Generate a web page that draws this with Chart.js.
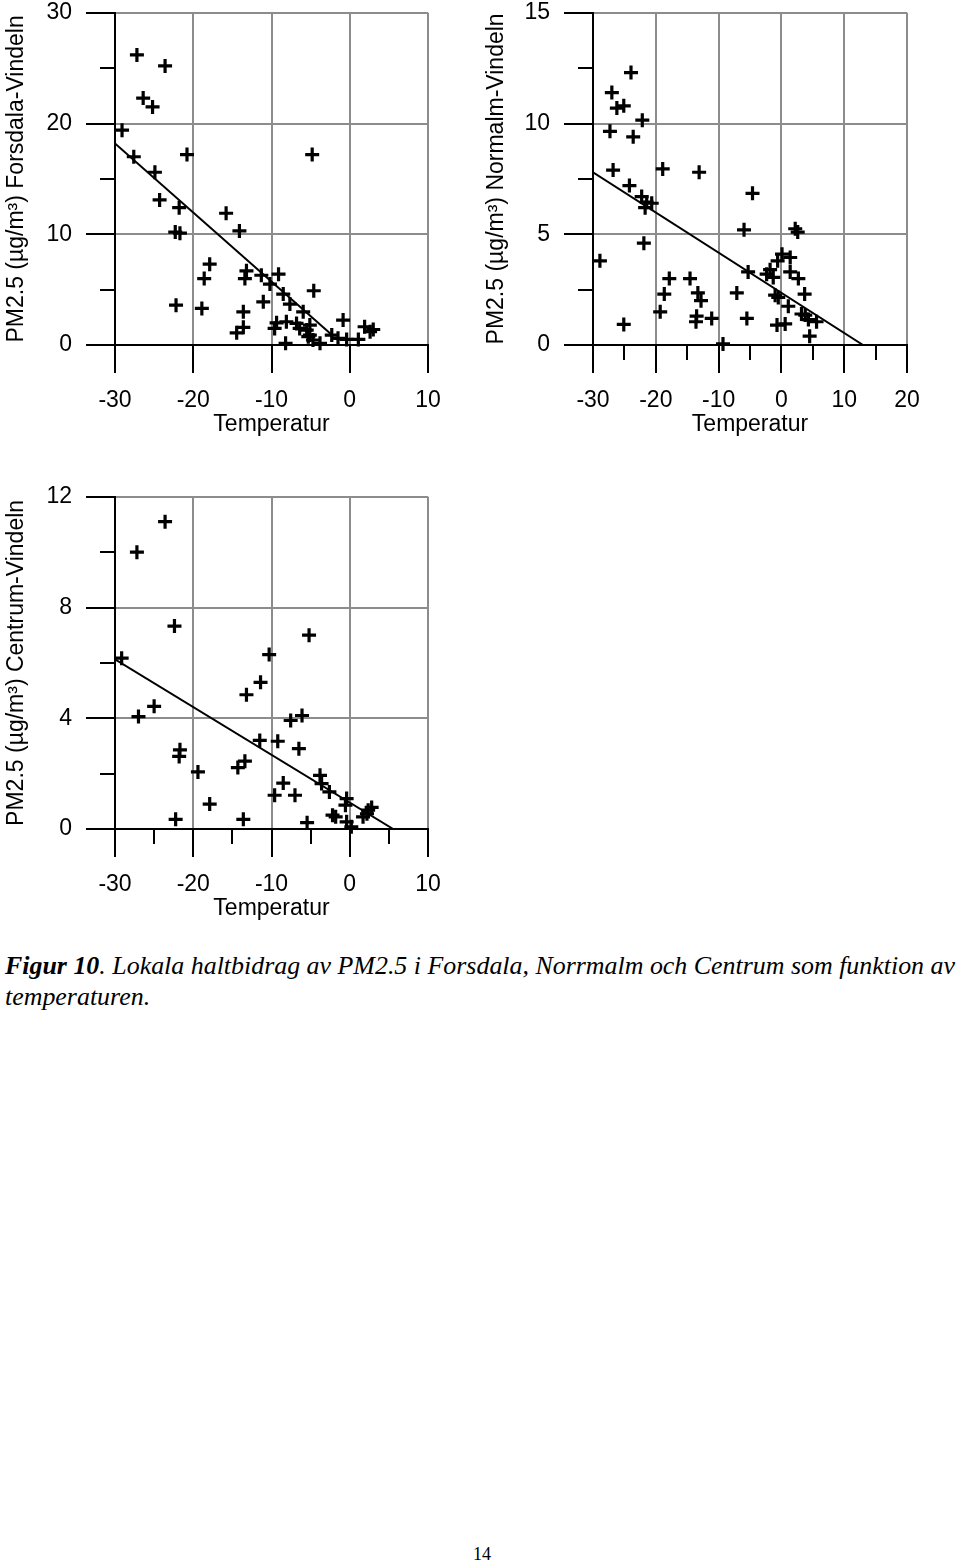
<!DOCTYPE html>
<html>
<head>
<meta charset="utf-8">
<script src="https://cdn.jsdelivr.net/npm/chart.js@4.4.0/dist/chart.umd.min.js"></script>
<style>
  html, body { margin: 0; padding: 0; background: #fff; }
  body { width: 960px; height: 1561px; position: relative; overflow: hidden; }
  .plot { position: absolute; }
  #caption { position: absolute; left: 5px; top: 950px; font-family: 'Liberation Serif', serif; font-style: italic; font-size: 25px; line-height: 31px; white-space: nowrap; transform-origin: 0 0; }
  #caption b { font-weight: bold; }
  #page { position: absolute; left: 0; top: 1544px; width: 964px; text-align: center; font-family: 'Liberation Serif', serif; font-size: 18px; }
</style>
</head>
<body>
<div class="plot" style="left:0;top:-15px"><canvas id="chartForsdala" width="480" height="465"></canvas></div>
<div class="plot" style="left:480px;top:-15px"><canvas id="chartNorrmalm" width="480" height="465"></canvas></div>
<div class="plot" style="left:0;top:469px"><canvas id="chartCentrum" width="480" height="465"></canvas></div>
<div id="caption"><span id="line1"><b>Figur 10</b>. Lokala haltbidrag av PM2.5 i Forsdala, Norrmalm och Centrum som funktion av</span><br><span>temperaturen.</span></div>
<div id="page">14</div>

<script>
// Forsdala-Vindeln
const tempForsdala = [-27.2, -23.6, -26.4, -25.2, -29.1, -27.6, -20.8, -24.9, -24.3, -21.8, -22.3, -21.7, -15.8, -14.1, -17.9, -18.6, -22.2, -18.9,
  -13.2, -13.4, -11.3, -10.2, -9.1, -11.05, -13.6, -13.6, -14.45, -4.8, -8.5, -4.6, -7.65, -5.95, -0.85, -9.35, -9.6, -8.1,
  -6.8, -6.4, -5.5, -5.3, -4.7, -3.8, -8.2, -2.3, -1.5, -0.4, 1.1, 1.9, 2.6, 3.0, -5.1, -5.1];
const pmForsdala = [26.2, 25.2, 22.3, 21.5, 19.4, 17.0, 17.2, 15.6, 13.1, 12.4, 10.2, 10.1, 11.9, 10.3, 7.3, 6.0, 3.6, 3.3,
  6.7, 6.0, 6.3, 5.5, 6.4, 3.9, 3.0, 1.6, 1.1, 17.2, 4.6, 4.9, 3.7, 3.0, 2.25, 2.0, 1.5, 2.1,
  1.95, 1.5, 1.35, 0.75, 0.45, 0.15, 0.15, 0.9, 0.6, 0.5, 0.5, 1.65, 1.2, 1.4, 0.9, 1.8];
const lineForsdalaX = [-30, -2.2];
const lineForsdalaY = [18.2, 0.85];

// Norrmalm-Vindeln
const tempNorrmalm = [-28.9, -27.0, -27.3, -26.8, -26.2, -25.1, -23.95, -22.15, -23.6, -24.2, -22.25, -21.45, -20.65, -21.7, -21.9, -18.9, -25.1, -17.85,
  -18.65, -19.3, -14.55, -13.3, -12.8, -13.5, -13.6, -11.1, -13.1, -9.3, -7.1, -5.95, -4.6, -5.3, -5.5, -2.35, -1.3, -1.8,
  -0.6, 0.1, 1.4, 1.4, 2.7, 2.2, 2.6, -1.0, -0.5, 1.1, 3.7, 3.2, 3.8, 4.3, 5.6, -0.7, 0.6, 4.5];
const pmNorrmalm = [3.8, 11.4, 9.65, 7.9, 10.7, 10.8, 12.3, 10.15, 9.4, 7.2, 6.7, 6.45, 6.4, 6.2, 4.6, 7.95, 0.93, 3.0,
  2.3, 1.5, 3.0, 2.35, 2.0, 1.3, 1.05, 1.2, 7.8, 0.05, 2.35, 5.2, 6.85, 3.3, 1.2, 3.2, 3.05, 3.4,
  3.8, 4.1, 3.95, 3.3, 3.0, 5.25, 5.1, 2.25, 2.15, 1.75, 2.3, 1.4, 1.35, 1.15, 1.05, 0.9, 0.95, 0.4];
const lineNorrmalmX = [-30, 13.0];
const lineNorrmalmY = [7.8, 0];

// Centrum-Vindeln
const tempCentrum = [-23.6, -27.2, -22.4, -29.15, -27.0, -25.0, -21.7, -21.8, -19.4, -17.9, -22.25, -13.6, -14.3, -13.4, -13.2, -11.4, -10.3, -11.5,
  -9.6, -5.2, -7.55, -6.1, -9.2, -6.5, -3.8, -3.6, -2.6, -0.4, -0.55, -8.5, -7.0, -2.2, -1.8, -5.45, -0.4, 0.2, 1.7, 2.35, 2.8, 2.2];
const pmCentrum = [11.1, 10.0, 7.33, 6.17, 4.06, 4.43, 2.86, 2.62, 2.06, 0.9, 0.35, 0.35, 2.22, 2.45, 4.85, 5.3, 6.3, 3.2,
  1.22, 7.0, 3.92, 4.1, 3.17, 2.9, 1.94, 1.64, 1.34, 1.1, 0.86, 1.66, 1.22, 0.5, 0.44, 0.23, 0.26, 0.08, 0.44, 0.68, 0.78, 0.55];
const lineCentrumX = [-30, 5.55];
const lineCentrumY = [6.13, 0];

const grid = '#8c8c8c';
const none = 'rgba(0,0,0,0)';

Chart.defaults.font.family = "'Liberation Sans', Arial, sans-serif";
Chart.defaults.font.size = 23;
Chart.defaults.color = '#000';

function isMajor(v, step) {
  const r = Math.abs(v / step - Math.round(v / step));
  return r < 1e-6;
}

// korta streck for mellanliggande ticks
const minorTicks = {
  id: 'minorTicks',
  afterDraw(chart, args, opts) {
    const ctx = chart.ctx;
    const area = chart.chartArea;
    const xs = chart.scales.x;
    const ys = chart.scales.y;
    ctx.save();
    ctx.strokeStyle = '#000';
    ctx.lineWidth = 2;
    ctx.beginPath();
    xs.ticks.forEach(function(t) {
      if (isMajor(t.value, opts.xMajor)) return;
      const px = Math.round(xs.getPixelForValue(t.value));
      ctx.moveTo(px, area.bottom);
      ctx.lineTo(px, area.bottom + 15);
    });
    ys.ticks.forEach(function(t) {
      if (isMajor(t.value, opts.yMajor)) return;
      const py = Math.round(ys.getPixelForValue(t.value));
      ctx.moveTo(area.left, py);
      ctx.lineTo(area.left - 15, py);
    });
    ctx.stroke();
    ctx.restore();
  }
};

function setupChart(id, temps, values, lineX, lineY, s) {
  const ctx = document.getElementById(id).getContext('2d');
  return new Chart(ctx, {
    type: 'scatter',
    data: {
      datasets: [{
        data: temps.map((t, i) => ({ x: t, y: values[i] })),
        pointStyle: 'cross',
        pointRadius: 7,
        pointBorderWidth: 3.2,
        borderColor: '#000',
        backgroundColor: '#000',
        clip: false
      }, {
        type: 'line',
        data: lineX.map((x, i) => ({ x: x, y: lineY[i] })),
        borderColor: '#000',
        borderWidth: 2,
        pointRadius: 0,
        fill: false,
        tension: 0
      }]
    },
    options: {
      responsive: false,
      animation: false,
      layout: { padding: { top: 21, right: s.padRight, bottom: 12, left: 0 } },
      plugins: {
        legend: { display: false },
        tooltip: { enabled: false },
        minorTicks: { xMajor: s.xMajor, yMajor: s.yMajor }
      },
      scales: {
        x: {
          type: 'linear',
          min: s.xMin, max: s.xMax,
          afterFit: function(scale) { scale.height = 93; },
          ticks: {
            stepSize: s.xStep, autoSkip: false, maxRotation: 0, padding: 14,
            callback: v => isMajor(v, s.xMajor) ? v : ''
          },
          grid: {
            color: c => (c.tick && c.tick.value !== s.xMin && isMajor(c.tick.value, s.xMajor)) ? grid : none,
            lineWidth: 2,
            tickLength: 28,
            tickWidth: 2,
            tickColor: c => (c.tick && isMajor(c.tick.value, s.xMajor)) ? '#000' : none
          },
          border: { color: '#000', width: 2 },
          title: { display: true, text: 'Temperatur', padding: { top: 0, bottom: 0 } }
        },
        y: {
          type: 'linear',
          min: s.yMin, max: s.yMax,
          afterFit: function(scale) { scale.width = s.yWidth; },
          ticks: {
            stepSize: s.yStep, autoSkip: false, padding: 14,
            callback: v => isMajor(v, s.yMajor) ? v : ''
          },
          grid: {
            color: c => (c.tick && c.tick.value !== s.yMin && isMajor(c.tick.value, s.yMajor)) ? grid : none,
            lineWidth: 2,
            tickLength: 29,
            tickWidth: 2,
            tickColor: c => (c.tick && isMajor(c.tick.value, s.yMajor)) ? '#000' : none
          },
          border: { color: '#000', width: 2 },
          title: { display: true, text: s.yTitle, padding: { top: 3, bottom: 0 } }
        }
      }
    },
    plugins: [minorTicks]
  });
}

setupChart('chartForsdala', tempForsdala, pmForsdala, lineForsdalaX, lineForsdalaY, {
  xMin: -30, xMax: 10, xStep: 10, xMajor: 10,
  yMin: 0, yMax: 30, yStep: 5, yMajor: 10,
  yWidth: 115, padRight: 52,
  yTitle: 'PM2.5 (µg/m³) Forsdala-Vindeln'
});

setupChart('chartNorrmalm', tempNorrmalm, pmNorrmalm, lineNorrmalmX, lineNorrmalmY, {
  xMin: -30, xMax: 20, xStep: 5, xMajor: 10,
  yMin: 0, yMax: 15, yStep: 2.5, yMajor: 5,
  yWidth: 113, padRight: 53,
  yTitle: 'PM2.5 (µg/m³) Normalm-Vindeln'
});

setupChart('chartCentrum', tempCentrum, pmCentrum, lineCentrumX, lineCentrumY, {
  xMin: -30, xMax: 10, xStep: 5, xMajor: 10,
  yMin: 0, yMax: 12, yStep: 2, yMajor: 4,
  yWidth: 115, padRight: 52,
  yTitle: 'PM2.5 (µg/m³) Centrum-Vindeln'
});

// bildtexten ska fylla bredden som i originalet
const line1 = document.getElementById('line1');
const w = line1.getBoundingClientRect().width;
document.getElementById('caption').style.transform = 'scaleX(' + (950 / w) + ')';
</script>
</body>
</html>
